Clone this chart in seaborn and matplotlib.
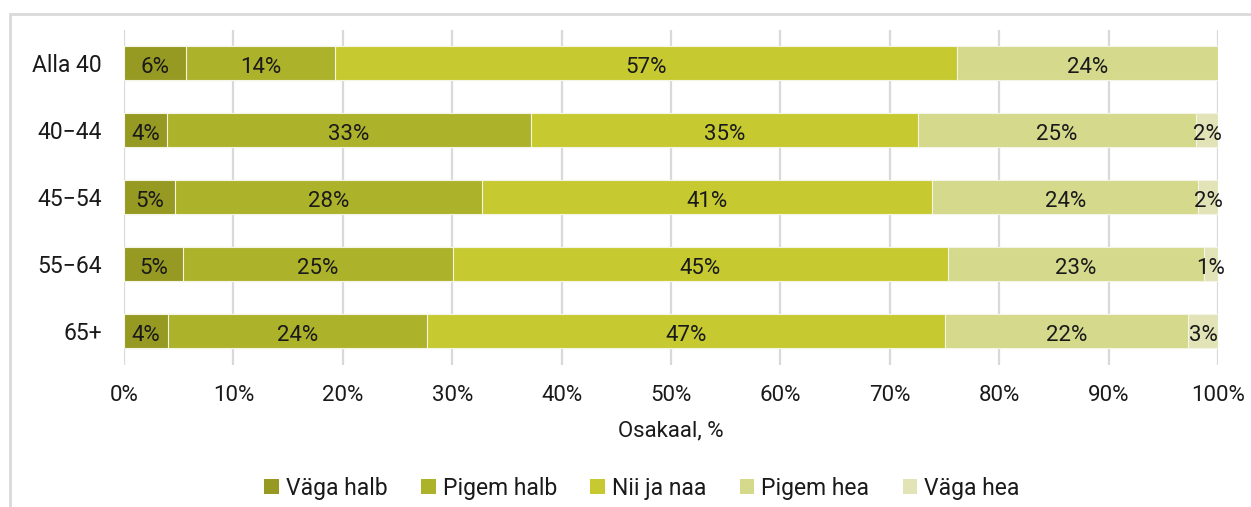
import numpy as np
import pandas as pd
import matplotlib
matplotlib.use("Agg")
import matplotlib.pyplot as plt
from matplotlib.patches import Patch, Rectangle
import seaborn as sns

# Data (share of respondents, %)
groups = ["Alla 40", "40\u221244", "45\u221254", "55\u221264", "65+"]
answers = ["Väga halb", "Pigem halb", "Nii ja naa", "Pigem hea", "Väga hea"]
vaga_halb = [5.7, 3.9, 4.7, 5.4, 4.0]
pigem_halb = [13.6, 33.3, 28.0, 24.7, 23.7]
nii_ja_naa = [56.8, 35.4, 41.2, 45.2, 47.3]
pigem_hea = [23.9, 25.4, 24.3, 23.4, 22.3]
vaga_hea = [0.0, 2.0, 1.8, 1.3, 2.7]

colors = ["#969a23", "#adb22b", "#c6ca30", "#d4d98b", "#e2e4b7"]

df = pd.DataFrame(
    {"group": groups, "Väga halb": vaga_halb, "Pigem halb": pigem_halb,
     "Nii ja naa": nii_ja_naa, "Pigem hea": pigem_hea, "Väga hea": vaga_hea}
)
cum = df[answers].cumsum(axis=1)

sns.set_theme(style="white")
plt.rcParams["font.family"] = ["Roboto", "DejaVu Sans"]
plt.rcParams["text.color"] = "#1a1a1a"

fig = plt.figure(figsize=(12.51, 5.07), dpi=100)
ax = fig.add_axes([124 / 1251, 1 - 364.5 / 507, 1094 / 1251, 335 / 507])

ax.set_axisbelow(True)
ax.grid(axis="x", color="#d9d9d9", linewidth=1.6)
ax.grid(axis="y", visible=False)

# stacked bars: draw cumulative totals from the outermost segment inward
for ans, col in reversed(list(zip(answers, colors))):
    sns.barplot(x=cum[ans], y=df["group"], orient="h", color=col, width=0.5,
                saturation=1, edgecolor="#f4f5e6", linewidth=0.8, ax=ax)

# segment labels
for i, row in df.iterrows():
    left = 0
    for ans in answers:
        v = row[ans]
        if v > 0.5:
            ax.text(left + v / 2, i + 0.03, f"{round(v):.0f}%", ha="center",
                    va="center_baseline", fontsize=16, color="#1a1a1a")
        left += v

ax.set_xlim(0, 100)
ax.set_ylim(4.5, -0.5)
ax.set_xticks(np.arange(0, 101, 10))
ax.set_xticklabels([f"{t}%" for t in range(0, 101, 10)])
ax.tick_params(axis="x", length=0, pad=15, labelsize=16, labelcolor="#1a1a1a")
ax.tick_params(axis="y", length=0, pad=16, labelsize=16.5, labelcolor="#1a1a1a")
ax.set_xlabel("Osakaal, %", fontsize=16, labelpad=10, color="#1a1a1a")
ax.set_ylabel("")
for s in ax.spines.values():
    s.set_visible(False)

handles = [Patch(facecolor=c, edgecolor="none", label=a) for a, c in zip(answers, colors)]
fig.legend(handles=handles, loc="center", bbox_to_anchor=(642 / 1251, 1 - 488 / 507),
           ncol=5, frameon=False, fontsize=16.5, handlelength=0.65, handleheight=0.65,
           handletextpad=0.3, columnspacing=1.45)

# light frame of the chart area (cut off at right and bottom)
fig.add_artist(Rectangle((10 / 1251, -0.2), 1.2, 1.2 - 14 / 507, transform=fig.transFigure,
                         fill=False, edgecolor="#d9d9d9", linewidth=2))

fig.savefig("out.png", dpi=100)
